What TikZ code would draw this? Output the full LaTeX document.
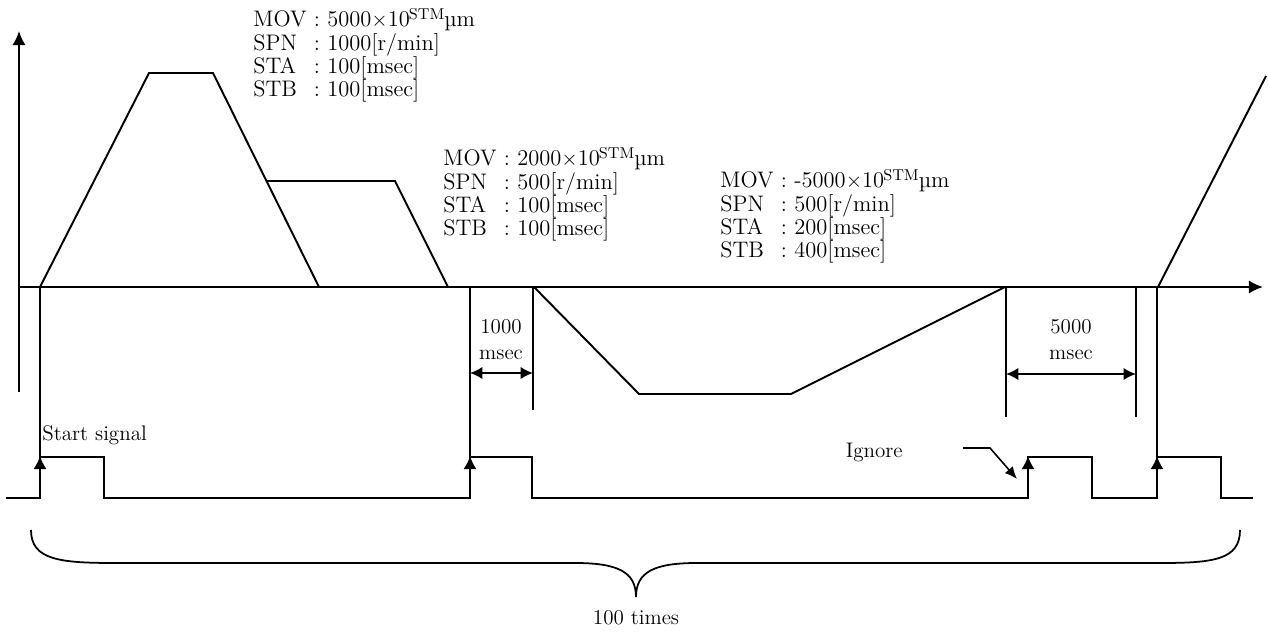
\documentclass[tikz,border=0pt]{standalone}
\usepackage{fontspec}
\usetikzlibrary{arrows.meta,positioning}
\tikzset{
  axis/.style={line width=1.1pt,-{Latex[length=8pt,width=7.5pt]}},
  profile/.style={line width=1.1pt,line join=miter},
  guide/.style={line width=0.9pt},
  pulse/.style={line width=1.1pt},
  trig/.style={line width=1.1pt,-{Latex[length=7.5pt,width=7.5pt]}},
  dimline/.style={line width=1.1pt,{Latex[length=7pt,width=7pt]}-{Latex[length=7pt,width=7pt]}},
  pointer/.style={line width=0.9pt,-{Latex[length=7pt,width=6pt]}},
  param/.style={inner sep=0pt,anchor=base west,font=\fontsize{12.8}{11.8}\selectfont},
  lbl/.style={inner sep=0pt,font=\fontsize{12}{14.8}\selectfont,align=center}
}
\newcommand{\parblock}[4]{%
  \begin{tabular}[t]{@{}l@{ : }l@{}}
    MOV & #1$\times$10\textsuperscript{\kern-0.5pt STM}\kern-0.5ptµm\\
    SPN & #2[r/min]\\
    STA & #3[msec]\\
    STB & #4[msec]
  \end{tabular}}

\begin{document}
\begin{tikzpicture}[x=0.02cm,y=-0.02cm]
  \useasboundingbox (0,0) rectangle (1268,638);

  % axes
  \coordinate (ybot) at (19,392);
  \coordinate (ytop) at (19,31);
  \coordinate (orig) at (19,287);
  \coordinate (xend) at (1263,287);
  \draw[axis] (ybot) -- (ytop);
  \draw[axis] (orig) -- (xend);

  % speed profiles
  \draw[profile] (40,287) -- (149,73) -- (213,73) -- (319,287);
  \draw[profile] (267,181) -- (395,181) -- (448,287);
  \draw[profile] (534,287) -- (639,394) -- (791,394) -- (1005,287);
  \draw[profile] (1158,287) -- (1266,76);

  % parameter blocks
  \node[param] (parA) at (253,27) {\parblock{5000}{1000}{100}{100}};
  \node[param] (parB) at (443,166) {\parblock{2000}{500}{100}{100}};
  \node[param] (parC) at (720,188) {\parblock{-5000}{500}{200}{400}};

  % guide lines
  \coordinate (gA) at (40,287);   \coordinate (gAb) at (40,457);
  \coordinate (gB) at (470,287);  \coordinate (gBb) at (470,457);
  \coordinate (gC) at (533,287);  \coordinate (gCb) at (533,410);
  \coordinate (gD) at (1006,287); \coordinate (gDb) at (1006,417);
  \coordinate (gE) at (1136,287); \coordinate (gEb) at (1136,417);
  \coordinate (gF) at (1157,287); \coordinate (gFb) at (1157,457);
  \foreach \g in {A,B,C,D,E,F}
    \draw[guide] (g\g) -- (g\g b);

  % dwell times
  \draw[dimline] (470,373) -- (533,373);
  \node[lbl] (dwellA) at (501,340) {1000\\msec};
  \draw[dimline] (1006,374) -- (1136,374);
  \node[lbl] (dwellB) at (1071,340) {5000\\msec};

  % start signal
  \draw[pulse] (6,498) -- (40,498) -- (40,457) -- (104,457) -- (104,498)
    -- (470,498) -- (470,457) -- (532,457) -- (532,498)
    -- (1028,498) -- (1028,457) -- (1092,457) -- (1092,498)
    -- (1157,498) -- (1157,457) -- (1221,457) -- (1221,498) -- (1253,498);
  \foreach \t in {40,470,1028,1157}
    \draw[trig] (\t,480) -- (\t,456);
  \node[lbl,anchor=base west] (start) at (42,440) {Start signal};

  % ignored signal
  \node[lbl,anchor=east] (ignore) at (903,452) {Ignore};
  \coordinate (igA) at (963,448);
  \coordinate (igB) at (990,448);
  \coordinate (igC) at (1017,479);
  \draw[pointer] (igA) -- (igB) -- (igC);

  % repetition
  \draw[line width=1pt] (31,530) .. controls (31,560) and (60,563) .. (115,563)
    -- (575,563) .. controls (618,563) and (636,572) .. (636,597)
    .. controls (636,572) and (654,563) .. (697,563)
    -- (1160,563) .. controls (1213,563) and (1240,560) .. (1240,530);
  \node[lbl] (times) at (636,618) {100 times};
\end{tikzpicture}
\end{document}
